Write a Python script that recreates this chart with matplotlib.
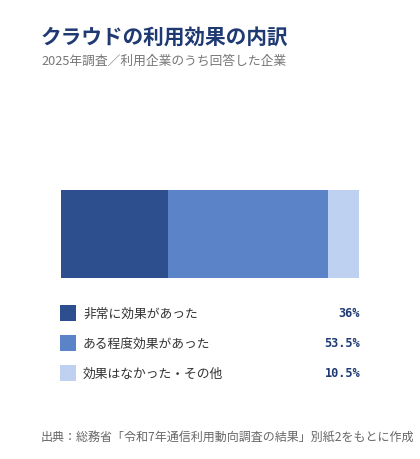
import matplotlib.pyplot as plt
from matplotlib.patches import Rectangle

plt.rcParams['font.family'] = ['Noto Sans CJK JP', 'DejaVu Sans']

labels = ["非常に効果があった", "ある程度効果があった", "効果はなかった・その他"]
values = [36, 53.5, 10.5]
value_labels = ["36%", "53.5%", "10.5%"]
colors = ["#2d4f8e", "#5b84c8", "#bfd1f0"]

W, H = 420, 460
fig = plt.figure(figsize=(W / 100, H / 100), dpi=100)
fig.patch.set_facecolor("white")

# title / subtitle
fig.text(41 / W, 1 - 37 / H, "クラウドの利用効果の内訳", fontsize=14.9, fontweight="bold",
         color="#1f3a73", va="center", ha="left")
fig.text(41 / W, 1 - 61 / H, "2025年調査／利用企業のうち回答した企業", fontsize=9.2,
         color="#777777", va="center", ha="left")

# stacked bar
ax = fig.add_axes([61 / W, 1 - 279 / H, 298 / W, 88 / H])
left = 0
for v, c in zip(values, colors):
    ax.barh(0, v, left=left, height=1, color=c, linewidth=0)
    left += v
ax.set_xlim(0, sum(values))
ax.set_ylim(-0.5, 0.5)
ax.axis("off")

# legend
lax = fig.add_axes([0, 0, 1, 1])
lax.set_xlim(0, W)
lax.set_ylim(H, 0)
lax.axis("off")
for i, (lab, vl, c) in enumerate(zip(labels, value_labels, colors)):
    y = 306 + i * 30
    lax.add_patch(Rectangle((60, y), 16, 16, color=c, linewidth=0))
    lax.text(83, y + 8, lab, fontsize=9.2, color="#333333", va="center", ha="left")
    lax.text(360, y + 8, vl, fontsize=8.6, color="#1f3a73", va="center", ha="right",
             fontweight="bold", family="DejaVu Sans Mono")

# source
fig.text(41 / W, 1 - 437 / H, "出典：総務省「令和7年通信利用動向調査の結果」別紙2をもとに作成",
         fontsize=8.65, color="#666666", va="center", ha="left")

fig.savefig("out.png", dpi=100)
